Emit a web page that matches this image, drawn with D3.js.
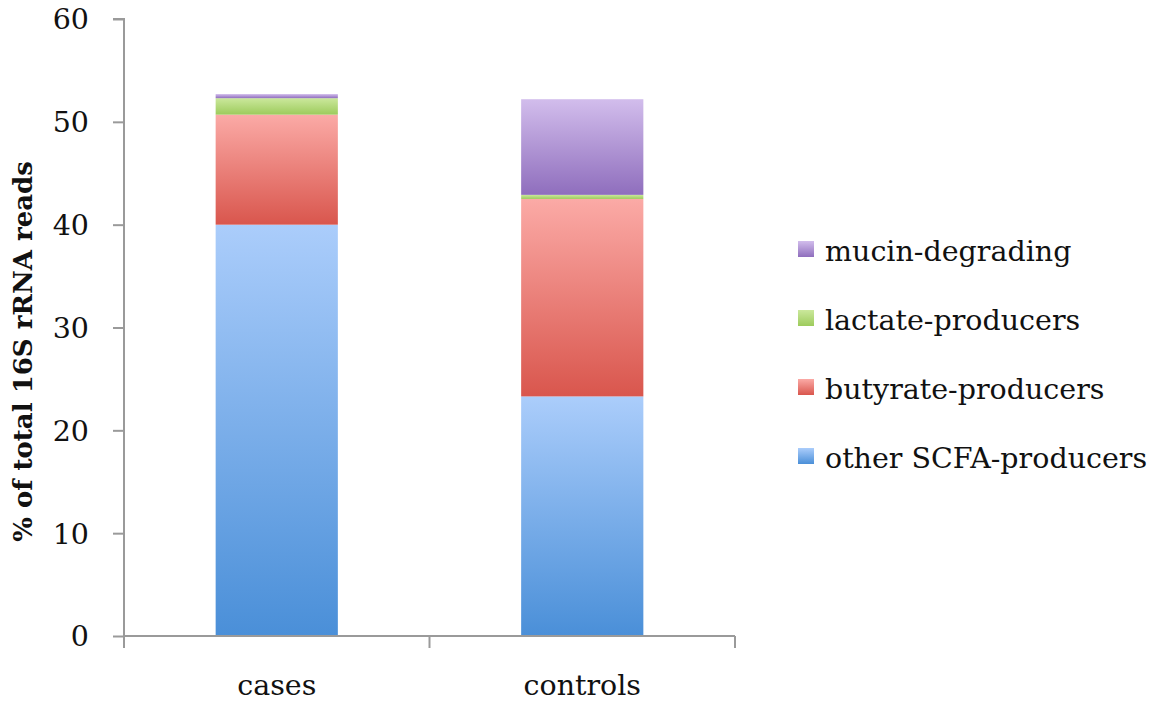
<!DOCTYPE html>
<html><head><meta charset="utf-8">
<script src="https://cdn.jsdelivr.net/npm/d3@7"></script>
<style>body{margin:0;background:#fff;} svg{display:block;}</style>
</head><body>
<svg id="chart" width="1161" height="705"></svg>
<script>
const categories = ["cases", "controls"];
const seriesNames = ["other SCFA-producers", "butyrate-producers", "lactate-producers", "mucin-degrading"];
const otherSCFA = [40.0, 23.3];
const butyrate = [10.7, 19.2];
const lactate = [1.6, 0.4];
const mucin = [0.4, 9.3];
const yTicks = [0, 10, 20, 30, 40, 50, 60];
const colorsTop = ["#abcdfb", "#fbaaa6", "#cbe89c", "#d2bdec"];
const colorsBottom = ["#4a8fd8", "#d9564d", "#9dcb5c", "#8f6ebd"];

(function () {
const values = [otherSCFA, butyrate, lactate, mucin];
const rows = categories.map((c, i) => {
  const r = {cat: c};
  seriesNames.forEach((s, j) => r[s] = values[j][i]);
  return r;
});
const stacked = d3.stack().keys(seriesNames)(rows);

const svg = d3.select("#chart");
const mLeft = 124, mRight = 735, mTop = 19, mBottom = 636;
const x = d3.scaleBand().domain(categories).range([mLeft, mRight]).paddingInner(0.6).paddingOuter(0.3);
const xOuter = d3.scaleBand().domain(categories).range([mLeft, mRight]);
const y = d3.scaleLinear().domain([0, 60]).range([mBottom, mTop]);

const defs = svg.append("defs");
seriesNames.forEach((s, j) => {
  const g = defs.append("linearGradient").attr("id", "g" + j).attr("x1", 0).attr("y1", 0).attr("x2", 0).attr("y2", 1);
  g.append("stop").attr("offset", "0%").attr("stop-color", colorsTop[j]);
  g.append("stop").attr("offset", "100%").attr("stop-color", colorsBottom[j]);
});

svg.selectAll("g.layer").data(stacked).join("g").attr("class", "layer")
  .attr("fill", (d, j) => `url(#g${j})`)
  .selectAll("rect").data(d => d).join("rect")
  .attr("x", d => x(d.data.cat))
  .attr("width", x.bandwidth())
  .attr("y", d => y(d[1]))
  .attr("height", d => y(d[0]) - y(d[1]));

const axisColor = "#9a9a9a";
const fs = 28.5;
const yAxis = svg.append("g").attr("transform", `translate(${mLeft},0)`)
  .call(d3.axisLeft(y).tickValues(yTicks).tickSize(11).tickPadding(24));
yAxis.select(".domain").attr("stroke", axisColor).attr("stroke-width", 2).attr("d", `M-11,${mTop}H0V${mBottom}`);
yAxis.selectAll(".tick line").attr("stroke", axisColor).attr("stroke-width", 2);
yAxis.selectAll(".tick text").attr("font-family", "DejaVu Serif").attr("font-size", fs).attr("fill", "#111").attr("dy", "0.35em");

const xAxis = svg.append("g").attr("transform", `translate(0,${mBottom})`);
xAxis.append("line").attr("x1", mLeft).attr("x2", mRight).attr("stroke", axisColor).attr("stroke-width", 2);
const tickPos = [mLeft].concat(categories.map(c => xOuter(c) + xOuter.bandwidth()));
xAxis.selectAll("line.t").data(tickPos).join("line").attr("class", "t")
  .attr("x1", d => d).attr("x2", d => d).attr("y1", 0).attr("y2", 12)
  .attr("stroke", axisColor).attr("stroke-width", 2);
xAxis.selectAll("text").data(categories).join("text")
  .attr("x", d => xOuter(d) + xOuter.bandwidth() / 2).attr("y", 59)
  .attr("text-anchor", "middle").attr("font-family", "DejaVu Serif").attr("font-size", fs).attr("fill", "#111")
  .text(d => d);

svg.append("text").attr("transform", `translate(32,${(mTop + mBottom) / 2 + 24}) rotate(-90)`)
  .attr("text-anchor", "middle").attr("font-family", "DejaVu Serif").attr("font-weight", "bold")
  .attr("font-size", 26).attr("fill", "#111").text("% of total 16S rRNA reads");

const legendOrder = [3, 2, 1, 0];
const lg = svg.append("g");
legendOrder.forEach((j, k) => {
  const cy = 250 + k * 69;
  lg.append("rect").attr("x", 798).attr("y", cy - 9).attr("width", 16).attr("height", 16).attr("fill", `url(#g${j})`);
  lg.append("text").attr("x", 825).attr("y", cy + 11).attr("font-family", "DejaVu Serif").attr("font-size", fs)
    .attr("fill", "#111").text(seriesNames[j]);
});
})();
</script>
</body></html>
